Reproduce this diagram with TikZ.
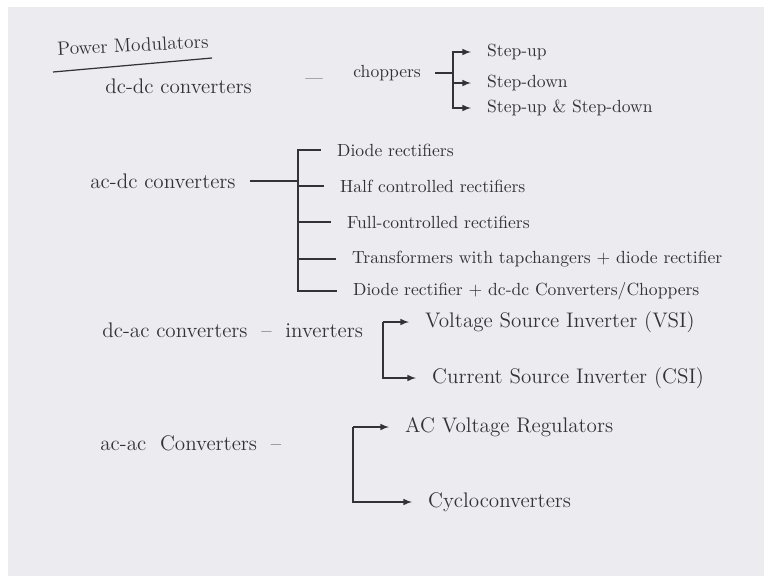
\documentclass[tikz,border=0pt]{standalone}
\usepackage{tikz}
\usetikzlibrary{arrows}
\definecolor{paper}{RGB}{236,235,240}
\definecolor{ink}{RGB}{50,50,55}
\tikzstyle{heading} = [text=ink, anchor=west, inner sep=0pt, font=\fontsize{11}{13}\selectfont]
\tikzstyle{stem} = [text=ink, anchor=west, inner xsep=8pt, inner ysep=0pt, font=\large]
\tikzstyle{leaf} = [text=ink, anchor=west, inner xsep=9pt, inner ysep=0pt, font=\normalsize]
\tikzstyle{bigleaf} = [leaf, font=\large]
\tikzstyle{line} = [draw=ink, line width=0.7pt, -latex]
\tikzstyle{tie} = [draw=ink, line width=0.7pt]

\begin{document}
\begin{tikzpicture}[x=0.02cm, y=-0.02cm]
    \useasboundingbox (0,0) rectangle (764,579);
    \fill [paper] (8,7) rectangle (764,576);

    \node [heading, rotate=3] (title) at (57,49) {Power Modulators};
    \path [tie] (53,72) -- (212,58);

    \node [stem] (dcdc) at (91,86) {dc-dc converters};
    \node [heading, font=\normalsize] (dcdash) at (305,81) {---};
    \node [stem, font=\normalsize] (chop) at (339,73) {choppers};
    \coordinate (chj) at (453,73);
    \node [leaf] (stepup) at (471,52) {Step-up};
    \node [leaf] (stepdown) at (471,83) {Step-down};
    \node [leaf] (stepboth) at (471,108) {Step-up \& Step-down};

    \node [stem] (acdc) at (76,181) {ac-dc converters};
    \coordinate (acdcj) at (298,181);
    \node [leaf] (diode) at (321,150) {Diode rectifiers};
    \node [leaf] (half) at (324,186) {Half controlled rectifiers};
    \node [leaf] (full) at (331,222) {Full-controlled rectifiers};
    \node [leaf] (tap) at (336,259) {Transformers with tapchangers + diode rectifier};
    \node [leaf] (dchop) at (337,291) {Diode rectifier + dc-dc Converters/Choppers};

    \node [stem] (dcac) at (88,330) {dc-ac converters\ \ --\ \ inverters};
    \coordinate (invj) at (383,322);
    \node [bigleaf] (vsi) at (409,322) {Voltage Source Inverter (VSI)};
    \node [bigleaf] (csi) at (416,378) {Current Source Inverter (CSI)};

    \node [stem] (acac) at (86,443) {ac-ac\ \ Converters\ \ --};
    \coordinate (acacj) at (353,427);
    \node [bigleaf] (acvr) at (389,427) {AC Voltage Regulators};
    \node [bigleaf] (cyclo) at (412,502) {Cycloconverters};

    \path [tie] (chop.east) -- (chj);
    \path [line] (chj) |- (stepup.west);
    \path [line] (chj) |- (stepdown.west);
    \path [line] (chj) |- (stepboth.west);
    \path [tie] (acdc.east) -- (acdcj);
    \path [tie] (acdcj) |- (diode.west);
    \path [tie] (acdcj) |- (half.west);
    \path [tie] (acdcj) |- (full.west);
    \path [tie] (acdcj) |- (tap.west);
    \path [tie] (acdcj) |- (dchop.west);
    \path [line] (invj) -- (vsi.west);
    \path [line] (invj) |- (csi.west);
    \path [line] (acacj) -- (acvr.west);
    \path [line] (acacj) |- (cyclo.west);

\end{tikzpicture}
\end{document}
